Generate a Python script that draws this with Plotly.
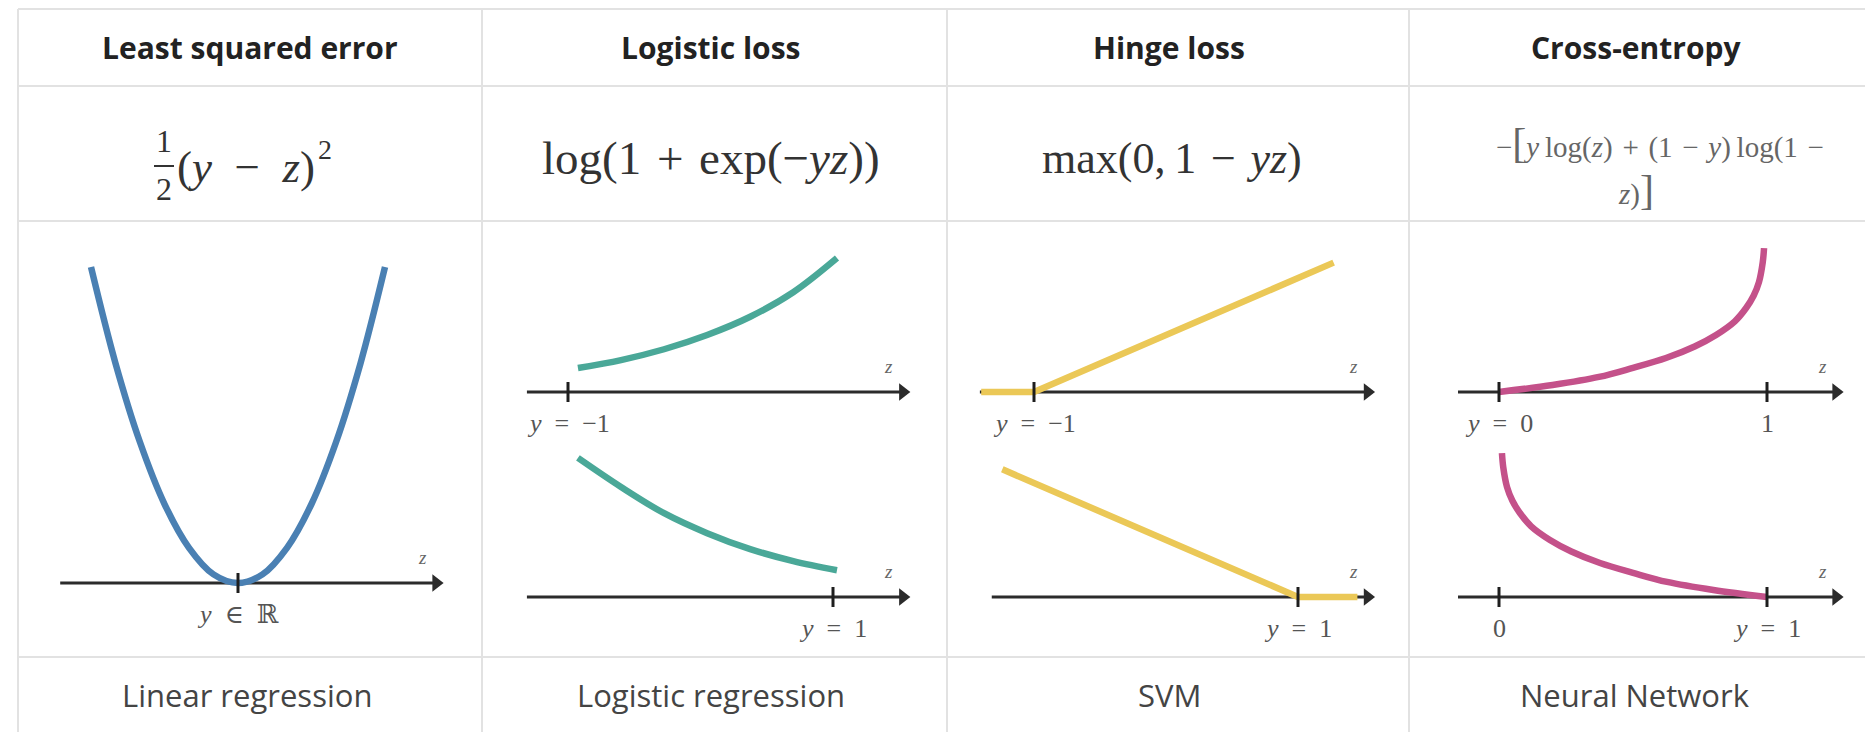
import plotly.graph_objects as go

W, H = 1865, 732

headers = ["Least squared error", "Logistic loss", "Hinge loss", "Cross-entropy"]
footers = ["Linear regression", "Logistic regression", "SVM", "Neural Network"]

# Least squared error, y in R
lse_z = [-2.1, -1.75, -1.4, -1.05, -0.7, -0.35, 0.0, 0.35, 0.7, 1.05, 1.4, 1.75, 2.1]
lse_loss = [2.2, 1.53, 0.98, 0.55, 0.245, 0.06, 0.0, 0.06, 0.245, 0.55, 0.98, 1.53, 2.2]

# Logistic loss, y = -1 and y = 1
log_neg_z = [-0.925, -0.6, -0.275, 0.05, 0.375, 0.7, 1.03]
log_neg_loss = [0.42, 0.56, 0.75, 1.0, 1.32, 1.75, 2.35]
log_pos_z = [-0.925, -0.6, -0.275, 0.05, 0.375, 0.7, 1.03]
log_pos_loss = [2.44, 1.93, 1.47, 1.12, 0.84, 0.63, 0.47]

# Hinge loss, y = -1 and y = 1
hinge_neg_z = [-1.4, -1.0, 1.27]
hinge_neg_loss = [0.0, 0.0, 2.27]
hinge_pos_z = [-1.24, 1.0, 1.45]
hinge_pos_loss = [2.24, 0.0, 0.0]

# Cross-entropy, y = 0 and y = 1
ce_y0_z = [0.0, 0.2, 0.373, 0.5, 0.623, 0.73, 0.81, 0.88, 0.922, 0.95, 0.97, 0.984, 0.989]
ce_y0_loss = [0.0, 0.2, 0.43, 0.69, 0.97, 1.3, 1.63, 2.02, 2.4, 2.75, 3.14, 3.7, 4.11]
ce_y1_z = [0.011, 0.016, 0.03, 0.05, 0.078, 0.12, 0.19, 0.27, 0.377, 0.5, 0.627, 0.8, 1.0]
ce_y1_loss = [4.11, 3.7, 3.14, 2.75, 2.4, 2.02, 1.63, 1.3, 0.97, 0.69, 0.43, 0.2, 0.0]

BLUE = "#4a80b3"
TEAL = "#4aa898"
YELLOW = "#ebc857"
PINK = "#c4518a"
AXIS = "#2b2b2b"
GRID = "#e2e2e2"
SERIF = "Liberation Serif, DejaVu Serif, serif"
SANS = "Open Sans, Noto Sans, sans-serif"
SP = "\u2002"   # en space
MS = "\u2004"   # three-per-em space, around binary operators
TS = "\u2009"   # thin space

# mini panels: pixel origin (z=0, loss=0), pixel scales, cell box, axis extent, ticks
panels = [
    dict(ox=238, oy=583, sx=70, sy=143.6, box=(20, 480), axis=(-2.54, 2.93),
         ticks=[(0.0, f"<i>y</i>{SP}∈{SP}ℝ")], z=lse_z, loss=lse_loss, color=BLUE,
         shape="spline", smooth=1.0),
    dict(ox=700.5, oy=392, sx=132.5, sy=57, box=(486, 946), axis=(-1.31, 1.58),
         ticks=[(-1.0, f"<i>y</i>{SP}={SP}−1")], z=log_neg_z, loss=log_neg_loss, color=TEAL,
         shape="spline", smooth=1.0),
    dict(ox=700.5, oy=597, sx=132.5, sy=57, box=(486, 946), axis=(-1.31, 1.58),
         ticks=[(1.0, f"<i>y</i>{SP}={SP}1")], z=log_pos_z, loss=log_pos_loss, color=TEAL,
         shape="spline", smooth=1.0),
    dict(ox=1166, oy=392, sx=132, sy=57, box=(950, 1408), axis=(-1.41, 1.58),
         ticks=[(-1.0, f"<i>y</i>{SP}={SP}−1")], z=hinge_neg_z, loss=hinge_neg_loss, color=YELLOW,
         shape="linear", smooth=0),
    dict(ox=1166, oy=597, sx=132, sy=57, box=(950, 1408), axis=(-1.32, 1.58),
         ticks=[(1.0, f"<i>y</i>{SP}={SP}1")], z=hinge_pos_z, loss=hinge_pos_loss, color=YELLOW,
         shape="linear", smooth=0),
    dict(ox=1499, oy=392, sx=268, sy=35, box=(1412, 1865), axis=(-0.153, 1.284),
         ticks=[(0.0, f"<i>y</i>{SP}={SP}0"), (1.0, "1")], z=ce_y0_z, loss=ce_y0_loss, color=PINK,
         shape="spline", smooth=1.0),
    dict(ox=1499, oy=597, sx=268, sy=35, box=(1412, 1865), axis=(-0.153, 1.284),
         ticks=[(0.0, "0"), (1.0, f"<i>y</i>{SP}={SP}1")], z=ce_y1_z, loss=ce_y1_loss, color=PINK,
         shape="spline", smooth=1.0),
]

CELL_TOP, CELL_BOT = 224, 654

fig = go.Figure()
annotations = []
shapes = []
layout_axes = {}


def px(x):
    return x / W


def py(y):
    return 1 - y / H


for i, p in enumerate(panels, start=1):
    xa = "x" if i == 1 else f"x{i}"
    ya = "y" if i == 1 else f"y{i}"
    L, R = p["box"]
    xr = [(L - p["ox"]) / p["sx"], (R - p["ox"]) / p["sx"]]
    yr = [(p["oy"] - CELL_BOT) / p["sy"], (p["oy"] - CELL_TOP) / p["sy"]]
    layout_axes["xaxis" if i == 1 else f"xaxis{i}"] = dict(
        domain=[px(L), px(R)], range=xr, visible=False, fixedrange=True, anchor=ya)
    layout_axes["yaxis" if i == 1 else f"yaxis{i}"] = dict(
        domain=[py(CELL_BOT), py(CELL_TOP)], range=yr, visible=False, fixedrange=True, anchor=xa)

    a0, a1 = p["axis"]
    head = 14 / p["sx"]
    # axis line
    fig.add_trace(go.Scatter(x=[a0, a1 - head * 0.6], y=[0, 0], mode="lines", xaxis=xa, yaxis=ya,
                             line=dict(color=AXIS, width=3), hoverinfo="skip", showlegend=False))
    # loss curve
    line = dict(color=p["color"], width=6.5, shape=p["shape"])
    if p["shape"] == "spline":
        line["smoothing"] = p["smooth"]
    fig.add_trace(go.Scatter(x=p["z"], y=p["loss"], mode="lines", xaxis=xa, yaxis=ya,
                             line=line, hoverinfo="skip", showlegend=False))
    # arrow head
    fig.add_trace(go.Scatter(x=[a1 - head / 2], y=[0], mode="markers", xaxis=xa, yaxis=ya,
                             marker=dict(symbol="triangle-right", size=15, color=AXIS, line=dict(width=0)),
                             hoverinfo="skip", showlegend=False))
    # ticks
    for tz, lab in p["ticks"]:
        shapes.append(dict(type="line", xref=xa, yref=ya, x0=tz, x1=tz,
                           y0=-10 / p["sy"], y1=10 / p["sy"], layer="above",
                           line=dict(color="#1e1e1e", width=3)))
        annotations.append(dict(xref=xa, yref=ya, x=tz, y=-31 / p["sy"], text=lab, showarrow=False,
                                xanchor="center", yanchor="middle",
                                font=dict(family=SERIF, size=26, color="#555555")))
    # z label
    annotations.append(dict(xref=xa, yref=ya, x=a1 - 21 / p["sx"], y=26 / p["sy"], text="<i>z</i>",
                            showarrow=False, xanchor="center", yanchor="middle",
                            font=dict(family=SERIF, size=19, color="#666666")))

# table grid
for y in [9, 86, 221, 657]:
    shapes.append(dict(type="line", xref="paper", yref="paper", x0=px(18), x1=1,
                       y0=py(y), y1=py(y), line=dict(color=GRID, width=2), layer="below"))
for x in [18, 482, 947, 1409]:
    shapes.append(dict(type="line", xref="paper", yref="paper", x0=px(x), x1=px(x),
                       y0=py(9), y1=0, line=dict(color=GRID, width=2), layer="below"))

header_x = [250, 711, 1169, 1636]
for hx, txt in zip(header_x, headers):
    annotations.append(dict(xref="paper", yref="paper", x=px(hx), y=py(48), text=f"<b>{txt}</b>",
                            showarrow=False, xanchor="center", yanchor="middle",
                            font=dict(family=SANS, size=30, color="#222222")))
footer_x = [247, 711, 1169, 1635]
for fx, txt in zip(footer_x, footers):
    annotations.append(dict(xref="paper", yref="paper", x=px(fx), y=py(695), text=txt,
                            showarrow=False, xanchor="center", yanchor="middle",
                            font=dict(family=SANS, size=31, color="#444444")))

# formulas
annotations += [
    dict(xref="paper", yref="paper", x=px(164), y=py(141), text="1", showarrow=False,
         xanchor="center", yanchor="middle", font=dict(family=SERIF, size=32, color="#333333")),
    dict(xref="paper", yref="paper", x=px(164), y=py(189), text="2", showarrow=False,
         xanchor="center", yanchor="middle", font=dict(family=SERIF, size=32, color="#333333")),
    dict(xref="paper", yref="paper", x=px(175), y=py(167), text=f"(<i>y</i>{SP}−{SP}<i>z</i>)",
         showarrow=False, xanchor="left", yanchor="middle",
         font=dict(family=SERIF, size=45, color="#333333")),
    dict(xref="paper", yref="paper", x=px(316), y=py(149), text="2", showarrow=False,
         xanchor="left", yanchor="middle", font=dict(family=SERIF, size=28, color="#333333")),
    dict(xref="paper", yref="paper", x=px(711), y=py(158), text=f"log(1{MS}+{MS}exp(−<i>yz</i>))",
         showarrow=False, xanchor="center", yanchor="middle",
         font=dict(family=SERIF, size=47, color="#333333")),
    dict(xref="paper", yref="paper", x=px(1172), y=py(158), text=f"max(0,{TS}1{MS}−{MS}<i>yz</i>)",
         showarrow=False, xanchor="center", yanchor="middle",
         font=dict(family=SERIF, size=44, color="#333333")),
    dict(xref="paper", yref="paper", x=px(1660), y=py(143),
         text=(f"−<span style='font-size:42px'>[</span><i>y</i>{TS}log(<i>z</i>){MS}+{MS}"
               f"(1{MS}−{MS}<i>y</i>){TS}log(1{MS}−"),
         showarrow=False, xanchor="center", yanchor="middle",
         font=dict(family=SERIF, size=29, color="#666666")),
    dict(xref="paper", yref="paper", x=px(1636), y=py(190),
         text="<i>z</i>)<span style='font-size:42px'>]</span>",
         showarrow=False, xanchor="center", yanchor="middle",
         font=dict(family=SERIF, size=29, color="#666666")),
]
shapes.append(dict(type="line", xref="paper", yref="paper", x0=px(154), x1=px(174),
                   y0=py(166), y1=py(166), line=dict(color="#333333", width=2)))

fig.update_layout(
    width=W, height=H, margin=dict(l=0, r=0, t=0, b=0),
    paper_bgcolor="white", plot_bgcolor="rgba(0,0,0,0)",
    showlegend=False, annotations=annotations, shapes=shapes, **layout_axes,
)

fig.write_html("out.html")
